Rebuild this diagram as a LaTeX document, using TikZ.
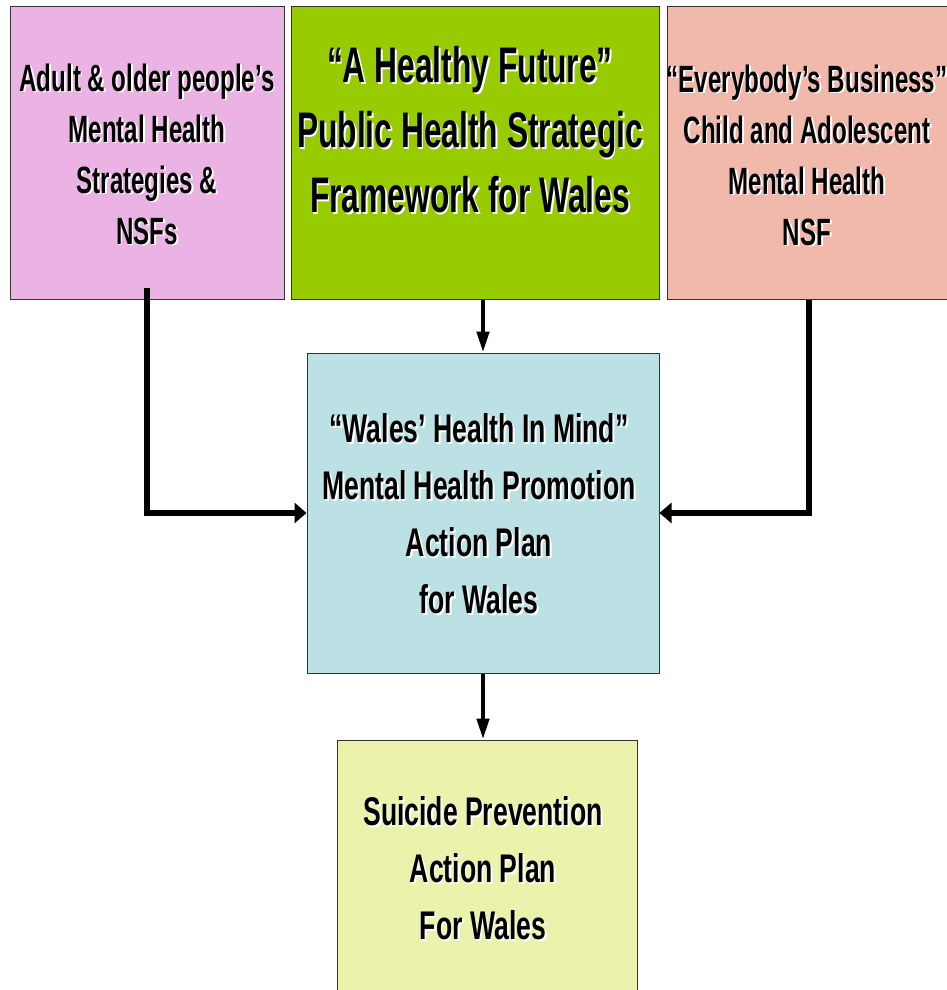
\documentclass[tikz,border=0pt]{standalone}
\usepackage{fontspec}
\newfontfamily\narrowfont{Liberation Sans}[FakeStretch = 0.635]
\newfontfamily\midfont{Liberation Sans}[FakeStretch = 0.665]
\usetikzlibrary{arrows.meta}
\definecolor{adultpink}{RGB}{235,179,227}
\definecolor{futuregreen}{RGB}{153,204,0}
\definecolor{childsalmon}{RGB}{240,185,172}
\definecolor{mindblue}{RGB}{188,225,228}
\definecolor{suicideyellow}{RGB}{235,242,172}
\newcommand\shd[1]{\leavevmode\rlap{\kern1.8pt\raisebox{-1.8pt}{\textcolor{white}{#1}}}#1}
\tikzset{
    x = 1pt, y = -1pt,
    box/.style = {draw = black!80, line width = 1pt, inner sep = 0pt},
    boxtext/.style = {align = center, inner sep = 0pt},
    smalltext/.style = {boxtext, font = \narrowfont\bfseries\fontsize{38}{51}\selectfont},
    midtext/.style = {boxtext, font = \midfont\bfseries\fontsize{40}{57}\selectfont},
    bigtext/.style = {boxtext, font = \narrowfont\bfseries\fontsize{50}{65}\selectfont},
    thinarrow/.style = {-{Triangle[length = 21pt, width = 12pt]}, line width = 4.5pt},
    thickarrow/.style = {-{Triangle[length = 12pt, width = 20pt]}, line width = 6pt}
}

\begin{document}
\begin{tikzpicture}
    \useasboundingbox (0, 0) rectangle (947, 990);
    \clip (0, 0) rectangle (947, 990);

    \node[box, fill = adultpink, minimum width = 274pt, minimum height = 292pt] (adult) at (147, 153) {};
    \node[box, fill = futuregreen, minimum width = 368pt, minimum height = 292pt] (future) at (475, 153) {};
    \node[box, fill = childsalmon, minimum width = 283pt, minimum height = 292pt] (child) at (808.5, 153) {};
    \node[box, fill = mindblue, minimum width = 352pt, minimum height = 320pt] (mind) at (483, 513) {};
    \node[box, fill = suicideyellow, minimum width = 300pt, minimum height = 258pt] (suicide) at (487, 869) {};

    \node[smalltext] (adulttext) at (147, 155) {\shd{Adult \& older people’s}\\\shd{Mental Health}\\\shd{Strategies \&}\\\shd{NSFs}};
    \node[bigtext] (futuretext) at (470, 131) {\shd{“A Healthy Future”}\\\shd{Public Health Strategic}\\\shd{Framework for Wales}};
    \node[smalltext] (childtext) at (807, 156) {\shd{“Everybody’s Business”}\\\shd{Child and Adolescent}\\\shd{Mental Health}\\\shd{NSF}};
    \node[midtext] (mindtext) at (479, 515) {\shd{“Wales’ Health In Mind”}\\\shd{Mental Health Promotion}\\\shd{Action Plan}\\\shd{for Wales}};
    \node[midtext] (suicidetext) at (483, 869) {\shd{Suicide Prevention}\\\shd{Action Plan}\\\shd{For Wales}};

    \draw[thinarrow] (future.south -| mind.north) -- (mind.north);
    \draw[thickarrow] ([yshift = 12pt]adult.south) |- (mind.west);
    \draw[thickarrow] (child.south) |- (mind.east);
    \draw[thinarrow] (mind.south) -- (mind.south |- suicide.north);
\end{tikzpicture}
\end{document}
